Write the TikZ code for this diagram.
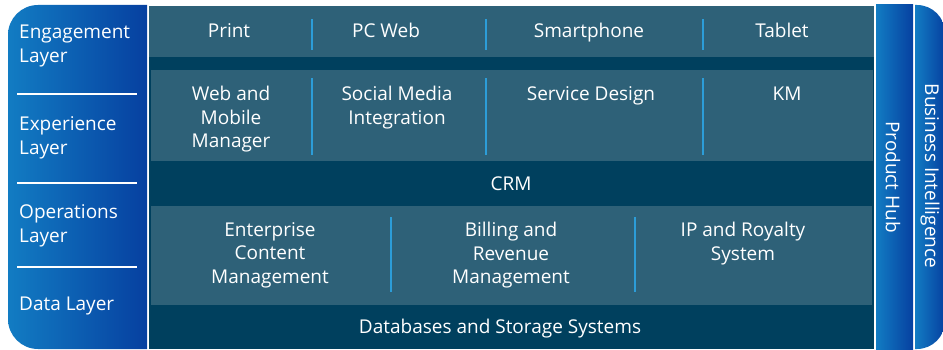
\documentclass[tikz,border=0pt]{standalone}
\usepackage{fontspec}
\setmainfont{Open Sans}
\begin{document}
\begin{tikzpicture}[x=1pt,y=1pt,
  darkfill/.style={fill=rowdark},
  lightfill/.style={fill=rowlight},
  sidefill/.style={left color=sideL,right color=sideR},
  sep/.style={draw=sepblue,line width=2pt},
  rule/.style={draw=white,line width=1.4pt},
  lbl/.style={text=white,font=\fontsize{19}{23.5}\selectfont,inner sep=0pt,align=center},
  side/.style={text=white,font=\fontsize{19}{23.5}\selectfont,inner sep=0pt,align=left},
]
\definecolor{rowdark}{HTML}{00405E}
\definecolor{rowlight}{HTML}{2E6178}
\definecolor{sideL}{HTML}{127CC3}
\definecolor{sideR}{HTML}{0640A0}
\definecolor{sepblue}{HTML}{2C9DD8}
\useasboundingbox (0,0) rectangle (943,349);
\fill[white] (0,0) rectangle (943,349);

% layer panel on the left
\shade[sidefill] (147,344) -- (38,344) arc[start angle=90,end angle=180,radius=30]
  -- (8,30) arc[start angle=180,end angle=270,radius=30] -- (147,0) -- cycle;
\draw[rule] (17,255) -- (137,255);
\draw[rule] (17,166) -- (137,166);
\draw[rule] (17,82) -- (137,82);
\node[side,anchor=west] (engL) at (19,303) {Engagement\\Layer};
\node[side,anchor=west] (expL) at (19,211) {Experience\\Layer};
\node[side,anchor=west] (opsL) at (19,123) {Operations\\Layer};
\node[side,anchor=west] (dataL) at (19,43) {Data Layer};

% main stack
\fill[darkfill] (149,0) rectangle (874,343);
\fill[lightfill] (149,292) rectangle (874,343);
\fill[lightfill] (151,188) rectangle (873,279);
\fill[lightfill] (151,44) rectangle (872,143);

% engagement row
\node[lbl,anchor=base] (print) at (229,312) {Print};
\node[lbl,anchor=base] (pcweb) at (386,312) {PC Web};
\node[lbl,anchor=base] (smart) at (589,312) {Smartphone};
\node[lbl,anchor=base] (tablet) at (782,312) {Tablet};
\draw[sep] (312,330) -- (312,299);
\draw[sep] (486,330) -- (486,299);
\draw[sep] (703,330) -- (703,299);

% experience row
\node[lbl,anchor=north] (wmm) at (231,263) {Web and\\Mobile\\Manager};
\node[lbl,anchor=north] (smi) at (397,263) {Social Media\\Integration};
\node[lbl,anchor=north] (sd) at (591,263) {Service Design};
\node[lbl,anchor=north] (km) at (787,262) {KM};
\draw[sep] (312,271) -- (312,194);
\draw[sep] (486,271) -- (486,194);
\draw[sep] (703,271) -- (703,194);

% CRM strip
\node[lbl,anchor=base] (crm) at (511,159) {CRM};

% operations row
\node[lbl,anchor=north] (ecm) at (270,127) {Enterprise\\Content\\Management};
\node[lbl,anchor=north] (brm) at (511,127) {Billing and\\Revenue\\Management};
\node[lbl,anchor=north] (ipr) at (743,127) {IP and Royalty\\System};
\draw[sep] (391,132) -- (391,57);
\draw[sep] (635,132) -- (635,57);

% data strip
\node[lbl,anchor=base] (db) at (500,16) {Databases and Storage Systems};

% vertical panels on the right
\shade[sidefill] (876,0) rectangle (913,344);
\shade[sidefill] (915,344) -- (915,0) -- (917,0) arc[start angle=-90,end angle=0,radius=28]
  -- (945,316) arc[start angle=0,end angle=90,radius=28] -- cycle;
\node[lbl,rotate=-90] (phub) at (893,172) {Product Hub};
\node[lbl,rotate=-90] (bi) at (930,173) {Business Intelligence};
\end{tikzpicture}
\end{document}
